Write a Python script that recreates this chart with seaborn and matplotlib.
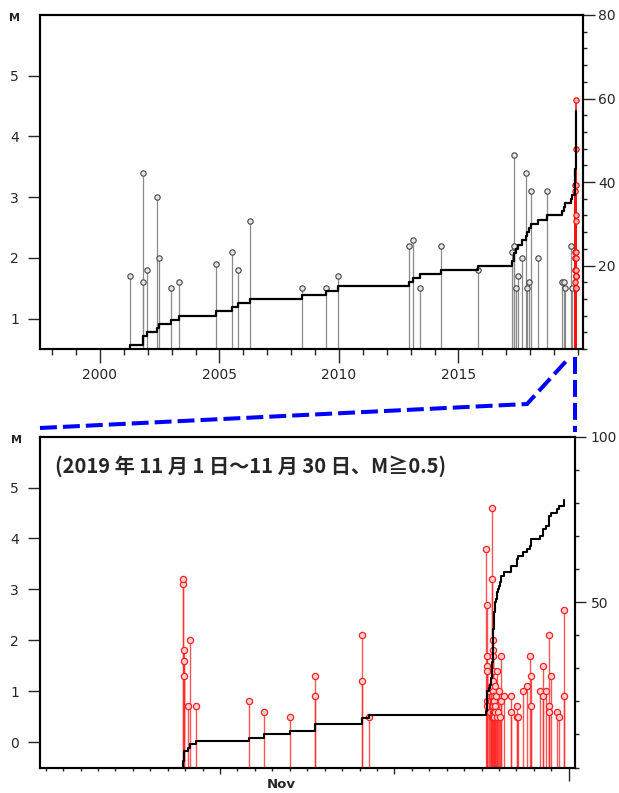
import numpy as np
import pandas as pd
import seaborn as sns
import matplotlib.pyplot as plt
from matplotlib.lines import Line2D
from matplotlib.ticker import FixedLocator, MultipleLocator, NullFormatter

# Events before November 2019 (decimal year, magnitude)
hist_year = [2001.26, 2001.78, 2001.79, 2001.96, 2002.40, 2002.48, 2002.97, 2003.32,
             2004.85, 2005.54, 2005.79, 2006.29, 2008.47, 2009.46, 2009.94, 2012.94,
             2013.10, 2013.39, 2014.27, 2015.83, 2017.22, 2017.33, 2017.34, 2017.40,
             2017.50, 2017.66, 2017.81, 2017.88, 2017.96, 2018.03, 2018.31, 2018.69,
             2019.35, 2019.43, 2019.46, 2019.72, 2019.75]
hist_mag = [1.7, 3.4, 1.6, 1.8, 3.0, 2.0, 1.5, 1.6,
            1.9, 2.1, 1.8, 2.6, 1.5, 1.5, 1.7, 2.2,
            2.3, 1.5, 2.2, 1.8, 2.1, 3.7, 2.2, 1.5,
            1.7, 2.0, 3.4, 1.5, 1.6, 3.1, 2.0, 3.1,
            1.6, 1.6, 1.5, 2.2, 1.5]

# November 2019 events (day of month with fraction, magnitude), M>=0.5
nov_day = [8.88, 8.90, 8.91, 8.92, 8.93, 9.18, 9.26, 9.64, 12.66, 13.50, 15.03,
           16.45, 16.46, 19.15, 19.16, 19.55,
           26.28, 26.29, 26.30, 26.31, 26.32, 26.33, 26.34,
           26.45, 26.50, 26.52, 26.55, 26.58, 26.60, 26.61, 26.62, 26.62, 26.63,
           26.63, 26.64, 26.64, 26.65, 26.65, 26.66, 26.66, 26.67, 26.68, 26.69,
           26.70, 26.71, 26.72, 26.73, 26.75, 26.77, 26.80, 26.83, 26.86,
           26.87, 26.95, 27.00, 27.05, 27.10, 27.14, 27.31, 27.68, 27.69,
           28.02, 28.03, 28.11, 28.40, 28.61, 28.80, 28.81, 28.82, 29.34, 29.51,
           29.52, 29.70, 29.86, 29.87, 29.88, 29.99, 30.32, 30.47, 30.72, 30.73]
nov_mag = [3.1, 3.2, 1.8, 1.6, 1.3, 0.7, 2.0, 0.7, 0.8, 0.6, 0.5,
           1.3, 0.9, 2.1, 1.2, 0.5,
           3.8, 2.7, 1.7, 1.5, 1.4, 0.8, 0.7,
           1.0, 0.6, 0.8, 1.1, 0.7, 0.9, 3.2, 4.6, 0.5, 2.0,
           0.6, 1.8, 0.8, 1.7, 1.0, 1.4, 0.5, 1.2, 0.7, 0.9,
           0.9, 0.6, 0.8, 0.5, 0.7, 1.1, 0.6, 0.9, 0.5,
           1.4, 0.6, 1.0, 0.5, 0.8, 1.7, 0.9, 0.9, 0.6,
           0.7, 0.5, 0.5, 1.0, 1.1, 1.7, 1.3, 0.7, 1.0, 1.5,
           0.9, 1.0, 2.1, 0.7, 0.6, 1.3, 0.6, 0.5, 2.6, 0.9]

year_ticks = [2000, 2005, 2010, 2015]
title = "(2019 年 11 月 1 日～11 月 30 日、M≧0.5)"

sns.set_style("ticks")
plt.rcParams["font.family"] = ["DejaVu Sans"]
plt.rcParams["axes.linewidth"] = 1.5

hist = pd.DataFrame({"t": hist_year, "M": hist_mag})
nov = pd.DataFrame({"day": nov_day, "M": nov_mag}).sort_values("day")
nov["t"] = 2019 + (303 + nov["day"]) / 365
nov_big = nov[nov["M"] >= 1.5]

top = pd.concat([hist, nov_big[["t", "M"]]]).sort_values("t")
top_t = [top["t"].iloc[0]] + list(top["t"])
top_n = [0] + list(range(1, len(top) + 1))
nov_t = [nov["day"].iloc[0]] + list(nov["day"])
nov_n = [0] + list(range(1, len(nov) + 1))

fig = plt.figure(figsize=(6.19, 7.93), dpi=100)
ax1 = fig.add_axes([40 / 619, 1 - 349 / 793, 543 / 619, 334 / 793])
ax3 = fig.add_axes([40 / 619, 1 - 767.5 / 793, 535.3 / 619, 330.8 / 793])

# Top panel: long-term M-T with cumulative count
ax1.vlines(hist["t"], 0.5, hist["M"], colors="#8a8a8a", lw=0.9, zorder=1)
sns.scatterplot(x=hist["t"], y=hist["M"], ax=ax1, s=15, color="#e6e6e6",
                edgecolor="#444444", linewidth=0.8, zorder=3)
ax1.vlines(nov_big["t"], 0.5, nov_big["M"], colors="#ff1010", lw=1.2, zorder=2)
sns.scatterplot(x=nov_big["t"], y=nov_big["M"], ax=ax1, s=15, color="#ffb0b0",
                edgecolor="#ff0000", linewidth=0.8, zorder=4)
ax1.set_xlim(1997.49, 2020.21)
ax1.set_ylim(0.5, 6.0)
ax1.xaxis.set_major_locator(FixedLocator(year_ticks))
ax1.xaxis.set_minor_locator(MultipleLocator(1))
ax1.xaxis.set_minor_formatter(NullFormatter())
ax1.yaxis.set_major_locator(FixedLocator([1, 2, 3, 4, 5]))
ax1.tick_params(axis="x", which="major", length=10, width=1, pad=3.5, labelsize=10)
ax1.tick_params(axis="x", which="minor", length=4.3, width=1)
ax1.tick_params(axis="y", length=8.5, width=1, pad=6.5, labelsize=10)
ax1.set(xlabel="", ylabel="")

ax2 = ax1.twinx()
sns.lineplot(x=top_t, y=top_n, ax=ax2, color="black", lw=1.6, sort=False,
             estimator=None, drawstyle="steps-post")
ax2.set_ylim(0, 80)
ax2.yaxis.set_major_locator(FixedLocator([20, 40, 60, 80]))
ax2.yaxis.set_minor_locator(MultipleLocator(4))
ax2.tick_params(axis="y", which="major", length=8.4, width=1, pad=2.4, labelsize=10)
ax2.tick_params(axis="y", which="minor", length=2.9, width=1)
ax2.set(ylabel="")

# Bottom panel: November 2019
ax3.vlines(nov["day"], -0.5, nov["M"], colors="#ff2a2a", lw=1.0, alpha=0.8, zorder=1)
sns.scatterplot(x=nov["day"], y=nov["M"], ax=ax3, s=20, color="#ffd0d0",
                edgecolor="#ff2020", linewidth=0.9, zorder=3)
ax3.set_xlim(0.67, 31.38)
ax3.set_ylim(-0.5, 6.0)
ax3.xaxis.set_major_locator(FixedLocator([11, 21, 31]))
ax3.xaxis.set_minor_locator(MultipleLocator(1))
ax3.xaxis.set_major_formatter(NullFormatter())
ax3.xaxis.set_minor_formatter(NullFormatter())
ax3.yaxis.set_major_locator(FixedLocator([0, 1, 2, 3, 4, 5]))
ax3.tick_params(axis="x", which="major", length=4.5, width=1)
ax3.tick_params(axis="x", which="minor", length=2.2, width=1)
ax3.tick_params(axis="y", length=8.5, width=1, pad=6.5, labelsize=10)
ax3.xaxis.get_major_ticks()[2].tick1line.set_markersize(9.5)
ax3.text(14.5, -0.05, "Nov", transform=ax3.get_xaxis_transform(),
         ha="center", va="center", fontsize=9.5, fontweight="bold")
ax3.text(0.028, 0.911, title, transform=ax3.transAxes, ha="left", va="center",
         fontsize=14.5, fontweight="bold", family=["Noto Sans CJK JP", "DejaVu Sans"])
ax3.set(xlabel="", ylabel="")

ax4 = ax3.twinx()
sns.lineplot(x=nov_t, y=nov_n, ax=ax4, color="black", lw=1.5, sort=False,
             estimator=None, drawstyle="steps-post")
ax4.set_ylim(0, 100)
ax4.yaxis.set_major_locator(FixedLocator([50, 100]))
ax4.yaxis.set_minor_locator(MultipleLocator(10))
ax4.tick_params(axis="y", which="major", length=8, width=1, pad=3, labelsize=10)
ax4.tick_params(axis="y", which="minor", length=2.9, width=1)
ax4.set(ylabel="")

for ax in (ax1, ax2, ax3, ax4):
    for sp in ax.spines.values():
        sp.set_color("black")
        sp.set_linewidth(1.5)

fig.text(15 / 619, 1 - 18 / 793, "M", ha="center", va="center", fontsize=8, fontweight="bold")
fig.text(16 / 619, 1 - 440 / 793, "M", ha="center", va="center", fontsize=8, fontweight="bold")

# Blue dashed zoom connectors
dash = (0, (4.2, 1.5))
fig.add_artist(Line2D([40 / 619, 527 / 619, 569 / 619],
                      [1 - 428 / 793, 1 - 404 / 793, 1 - 358 / 793],
                      transform=fig.transFigure, color="#0000ff", lw=2.9, ls=dash))
fig.add_artist(Line2D([575 / 619, 575 / 619], [1 - 357 / 793, 1 - 432 / 793],
                      transform=fig.transFigure, color="#0000ff", lw=2.9, ls=dash))

fig.savefig("out.png", dpi=100)
